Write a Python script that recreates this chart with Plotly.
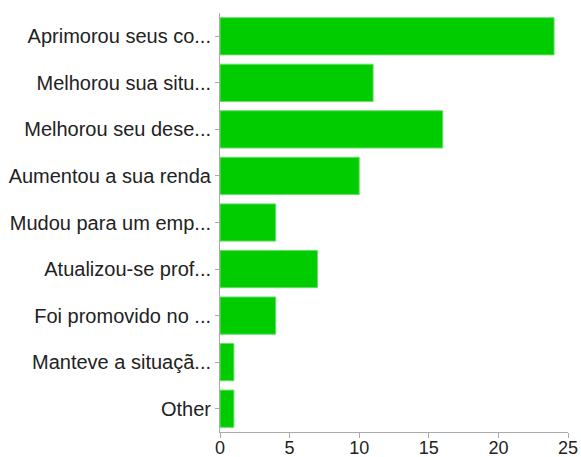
import plotly.graph_objects as go

categories = [
    "Aprimorou seus co...",
    "Melhorou sua situ...",
    "Melhorou seu dese...",
    "Aumentou a sua renda",
    "Mudou para um emp...",
    "Atualizou-se prof...",
    "Foi promovido no ...",
    "Manteve a situaçã...",
    "Other",
]
values = [24, 11, 16, 10, 4, 7, 4, 1, 1]
x_ticks = [0, 5, 10, 15, 20, 25]

fig = go.Figure(
    go.Bar(
        x=values,
        y=categories,
        orientation="h",
        width=0.8,
        marker=dict(color="#00CC00", line=dict(color="#66E066", width=1)),
    )
)

fig.update_layout(
    width=581,
    height=457,
    margin=dict(l=220, r=13, t=13, b=25),
    paper_bgcolor="white",
    plot_bgcolor="white",
    font=dict(family="Liberation Sans, Arial, sans-serif", size=18, color="#222222"),
    showlegend=False,
)
fig.update_xaxes(
    range=[0, 25],
    tickvals=x_ticks,
    showgrid=False,
    zeroline=False,
    showline=True,
    linecolor="#AAAAAA",
    linewidth=1,
    ticks="outside",
    ticklen=5,
    tickcolor="#AAAAAA",
    tickfont=dict(size=18),
    ticklabelstandoff=-6,
    automargin=False,
)
fig.update_yaxes(
    categoryorder="array",
    categoryarray=categories[::-1],
    showgrid=False,
    showline=True,
    linecolor="#AAAAAA",
    linewidth=1,
    ticks="outside",
    ticklen=4,
    tickcolor="#AAAAAA",
    tickfont=dict(size=20),
    automargin=False,
)

fig.write_html(
    "out.html",
    config={"displayModeBar": False},
    post_script="document.body.style.margin='0';document.body.style.overflow='hidden';",
)
